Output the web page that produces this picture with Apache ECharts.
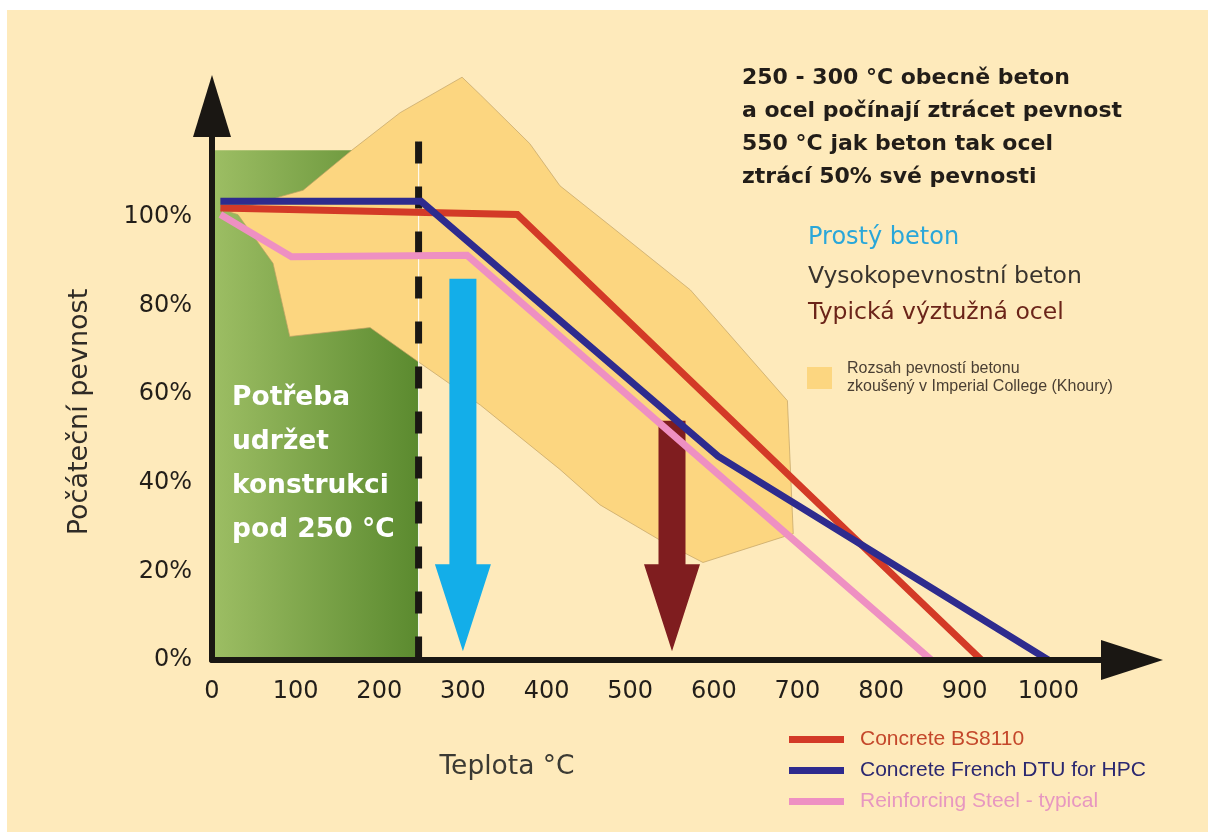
<!DOCTYPE html>
<html><head><meta charset="utf-8">
<script src="https://cdn.jsdelivr.net/npm/echarts@6/dist/echarts.min.js"></script>
<style>html,body{margin:0;padding:0;background:#ffffff;}#c{width:1208px;height:832px;}</style>
</head><body><div id="c"></div>
<script>
// ---------- data ----------
const xTickLabels = ['0','100','200','300','400','500','600','700','800','900','1000'];
const yTickLabels = ['0%','20%','40%','60%','80%','100%'];

const concreteBS8110 = [[10,102],[365,100.5],[920,0]];
const concreteDTU    = [[10,103.5],[250,103.5],[605,46],[1000,0]];
const steelTypical   = [[10,100.5],[95,91],[305,91.3],[860,0]];

// Khoury (Imperial College) range of concrete strength – polygon outline [°C, %]
const khouryBand = [[22,101],[81,104.5],[109,106],[167,115],[225,123.5],[299,131.5],[321,127.5],
  [380,116.5],[416,107],[476,98],[572,83.5],[688,58.5],[695,28.5],[587,22],[536,27],[464,35],
  [416,43],[321,57.5],[245,67.5],[189,75],[93,73],[73,89.5],[31,100.5]];

const safeZone  = [0, 247, 115];          // from °C, to °C, top %
const limitLine = [[247,117],[247,0]];    // 250 °C limit
const arrowTemps = [300, 550];
const arrowFrom  = [86, 54];
const arrowTo    = [2, 2];

const seriesNames = ['Concrete BS8110','Concrete French DTU for HPC','Reinforcing Steel - typical'];
const bandName = 'Rozsah pevností betonu\nzkoušený v Imperial College (Khoury)';

// ---------- styles ----------
const C = {
  bg:'#feeabb', band:'#fcd680', axis:'#1a1713',
  red:'#d33a27', blue:'#2e2b8e', pink:'#ee90c2',
  cyan:'#13aee9', darkred:'#7f1d1f'
};
const arrowColors = [C.cyan, C.darkred];

const chart = echarts.init(document.getElementById('c'));

function lineSeries(name, data, color){
  return {type:'line', name, data, symbol:'none', showSymbol:false, silent:true, z:6,
    lineStyle:{width:7, color, join:'miter', cap:'butt'}, itemStyle:{color}};
}

chart.setOption({
  animation:false,
  backgroundColor:'transparent',
  grid:{left:212, right:76, top:106, bottom:172, containLabel:false},
  xAxis:{type:'value', min:0, max:1100, interval:100, z:10,
    axisLine:{show:true, onZero:false, lineStyle:{color:C.axis, width:6}, symbol:['none','triangle'], symbolSize:[40,62]},
    axisTick:{show:false}, splitLine:{show:false},
    axisLabel:{formatter:(v,i)=> xTickLabels[i] ?? '', fontSize:24, fontFamily:'DejaVu Sans', color:'#221e19', margin:20}
  },
  yAxis:{type:'value', min:0, max:125, interval:20, z:10,
    axisLine:{show:true, onZero:false, lineStyle:{color:C.axis, width:6}, symbol:['none','triangle'], symbolSize:[38,62]},
    axisTick:{show:false}, splitLine:{show:false},
    axisLabel:{formatter:(v,i)=> yTickLabels[i] ?? '', fontSize:24, fontFamily:'DejaVu Sans', color:'#221e19', margin:20}
  },
  legend:[
    {orient:'vertical', left:789, top:729, itemWidth:55, itemHeight:7, itemGap:10, icon:'rect', selectedMode:false, padding:0,
     textStyle:{fontSize:21, fontFamily:'Liberation Sans', padding:[0,0,0,11]},
     data:[{name:seriesNames[0], textStyle:{color:'#c4472a'}},
           {name:seriesNames[1], textStyle:{color:'#2b2870'}},
           {name:seriesNames[2], textStyle:{color:'#e797c0'}}]},
    {orient:'vertical', left:807, top:360, itemWidth:25, itemHeight:22, icon:'rect', selectedMode:false, padding:0,
     textStyle:{fontSize:16, lineHeight:18, fontFamily:'Liberation Sans', color:'#4a3f33', padding:[0,0,0,10]},
     data:[bandName]}
  ],
  graphic:[
    {type:'rect', z:-10, silent:true, shape:{x:7, y:10, width:1201, height:822}, style:{fill:C.bg}},
    {type:'text', silent:true, z:20, style:{x:742, y:61.5, text:'250 - 300 °C obecně beton\na ocel počínají ztrácet pevnost\n550 °C jak beton tak ocel\nztrácí 50% své pevnosti',
      font:'bold 22px "DejaVu Sans"', fill:'#221d18', lineHeight:33, verticalAlign:'top'}},
    {type:'text', silent:true, z:20, style:{x:808, y:238, text:'Prostý beton', font:'24px "DejaVu Sans"', fill:'#2aa7d9', verticalAlign:'middle'}},
    {type:'text', silent:true, z:20, style:{x:808, y:277, text:'Vysokopevnostní beton', font:'23.5px "DejaVu Sans"', fill:'#38332d', verticalAlign:'middle'}},
    {type:'text', silent:true, z:20, style:{x:808, y:313, text:'Typická výztužná ocel', font:'23.5px "DejaVu Sans"', fill:'#6b2419', verticalAlign:'middle'}},
    {type:'text', silent:true, z:20, style:{x:232, y:376, text:'Potřeba\nudržet\nkonstrukci\npod 250 °C', font:'bold 26.5px "DejaVu Sans"', fill:'#ffffff', lineHeight:44, verticalAlign:'top'}},
    {type:'text', silent:true, z:20, x:80, y:412, rotation:Math.PI/2, style:{x:0, y:0, text:'Počáteční pevnost', font:'27px "DejaVu Sans"', fill:'#2f2b26', align:'center', verticalAlign:'middle'}},
    {type:'text', silent:true, z:20, style:{x:507, y:767, text:'Teplota °C', font:'26.5px "DejaVu Sans"', fill:'#3b3a33', align:'center', verticalAlign:'middle'}}
  ],
  series:[
    {type:'custom', silent:true, z:1, data:[safeZone],
     renderItem:(params, api)=>{
       const p0 = api.coord([api.value(0), api.value(2)]);
       const p1 = api.coord([api.value(1), 0]);
       return {type:'rect', shape:{x:p0[0], y:p0[1], width:p1[0]-p0[0], height:p1[1]-p0[1]},
         style:{fill:new echarts.graphic.LinearGradient(0,0,1,0,[{offset:0,color:'#9dbe64'},{offset:1,color:'#5b8a2f'}])}};
     }},
    {type:'custom', name:bandName, silent:true, z:2, data:[[0,0]], itemStyle:{color:C.band},
     renderItem:(params, api)=>({type:'polygon', shape:{points:khouryBand.map(p=>api.coord(p))},
        style:{fill:C.band, stroke:'#c2a264', lineWidth:0.7}})},
    {type:'custom', silent:true, z:3, data:arrowTemps.map((t,i)=>[t, arrowFrom[i], arrowTo[i]]),
     renderItem:(params, api)=>{
       const top = api.coord([api.value(0), api.value(1)]);
       const tip = api.coord([api.value(0), api.value(2)]);
       const x = top[0], sw = 13.5, hw = 28, hl = 87;
       return {type:'polygon', shape:{points:[[x-sw,top[1]],[x+sw,top[1]],[x+sw,tip[1]-hl],[x+hw,tip[1]-hl],[x,tip[1]],[x-hw,tip[1]-hl],[x-sw,tip[1]-hl]]},
         style:{fill:arrowColors[params.dataIndex]}};
     }},
    {type:'line', data:limitLine, symbol:'none', silent:true, z:4, lineStyle:{width:1.2, color:'rgba(255,255,255,0.85)'}},
    {type:'line', data:limitLine, symbol:'none', silent:true, z:4, lineStyle:{width:7, color:C.axis, type:[22,23], cap:'butt'}},
    lineSeries(seriesNames[0], concreteBS8110, C.red),
    lineSeries(seriesNames[1], concreteDTU, C.blue),
    lineSeries(seriesNames[2], steelTypical, C.pink)
  ]
});
</script></body></html>
